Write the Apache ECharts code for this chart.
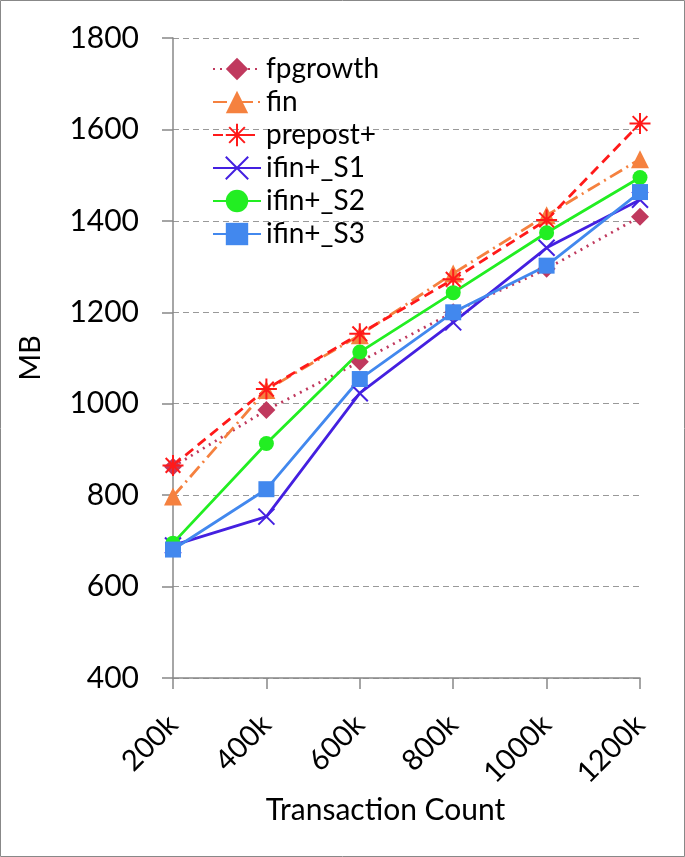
<!DOCTYPE html>
<html><head><meta charset="utf-8">
<script src="https://cdn.jsdelivr.net/npm/echarts@6/dist/echarts.min.js"></script>
<style>html,body{margin:0;padding:0;background:#fff}#c{width:685px;height:857px}</style>
</head><body><div id="c"></div>
<script>
var categories = ['200k','400k','600k','800k','1000k','1200k'];
var fpgrowth = [862, 986, 1092, 1200, 1295, 1409];
var fin = [797, 1030, 1150, 1285, 1412, 1535];
var prepost = [865, 1032, 1153, 1272, 1402, 1613];
var ifinS1 = [690, 753, 1023, 1178, 1341, 1446];
var ifinS2 = [695, 913, 1113, 1243, 1374, 1495];
var ifinS3 = [681, 813, 1054, 1200, 1302, 1463];
var yTicks = [400, 600, 800, 1000, 1200, 1400, 1600, 1800];

var FONT = 'Lato';
var star = 'path://M5,0L5,10M0,5L10,5M1.5,1.5L8.5,8.5M8.5,1.5L1.5,8.5';
var cross = 'path://M0,0L10,10M10,0L0,10';

function mk(name, data, color, lineType, symbol, size, stroked) {
  return {
    name: name, type: 'line', data: data, symbol: symbol, symbolSize: size,
    lineStyle: {color: color, width: 2.8, type: lineType},
    itemStyle: stroked ? {color: 'rgba(0,0,0,0)', borderColor: color, borderWidth: 2} : {color: color},
    emphasis: {disabled: true}, animation: false, z: 3
  };
}
var chart = echarts.init(document.getElementById('c'));
chart.setOption({
  backgroundColor: '#fff',
  animation: false,
  graphic: [{type: 'rect', shape: {x: 0.5, y: 0.5, width: 684, height: 856}, style: {fill: 'none', stroke: '#888', lineWidth: 1}}],
  grid: {left: 173, right: 45, top: 38, bottom: 179},
  legend: {
    orient: 'vertical', left: 207, top: 49, itemWidth: 48, itemHeight: 28, itemGap: 3,
    textStyle: {fontFamily: FONT, fontSize: 28, color: '#000', lineHeight: 30},
    data: ['fpgrowth','fin','prepost+','ifin+_S1','ifin+_S2','ifin+_S3']
  },
  xAxis: {
    type: 'category', data: categories, boundaryGap: false,
    axisLine: {lineStyle: {color: '#888', width: 1.5}},
    axisTick: {show: true, length: 11, lineStyle: {color: '#888', width: 1.5}},
    axisLabel: {rotate: 45, fontFamily: FONT, fontSize: 29, color: '#000', margin: 42},
    name: 'Transaction Count', nameLocation: 'middle', nameGap: 114,
    nameTextStyle: {fontFamily: FONT, fontSize: 30, color: '#000', padding: [0, 42, 0, 0]},
    splitLine: {show: false}
  },
  yAxis: {
    type: 'value', min: 400, max: 1800, interval: 200,
    axisLine: {show: true, lineStyle: {color: '#888', width: 1.5}},
    axisTick: {show: true, length: 11, lineStyle: {color: '#888', width: 1.5}},
    axisLabel: {fontFamily: FONT, fontSize: 30, color: '#000', margin: 34,
      formatter: function(v){ return yTicks.indexOf(v) >= 0 ? String(v) : ''; }},
    splitLine: {lineStyle: {color: '#999', type: [6, 4], width: 1.2}},
    name: 'MB', nameLocation: 'middle', nameGap: 128, nameRotate: 90,
    nameTextStyle: {fontFamily: FONT, fontSize: 29, color: '#000'}
  },
  series: [
    mk('fpgrowth', fpgrowth, '#C0395E', [2, 5], 'diamond', 18, false),
    mk('fin', fin, '#F5813F', [14, 5, 2, 5], 'triangle', 18, false),
    mk('prepost+', prepost, '#FF1A1A', [10, 6], star, 21, true),
    mk('ifin+_S1', ifinS1, '#4420E0', 'solid', cross, 16, true),
    mk('ifin+_S2', ifinS2, '#22EE22', 'solid', 'circle', 15, false),
    mk('ifin+_S3', ifinS3, '#4288EE', 'solid', 'rect', 16, false)
  ]
});
</script></body></html>
